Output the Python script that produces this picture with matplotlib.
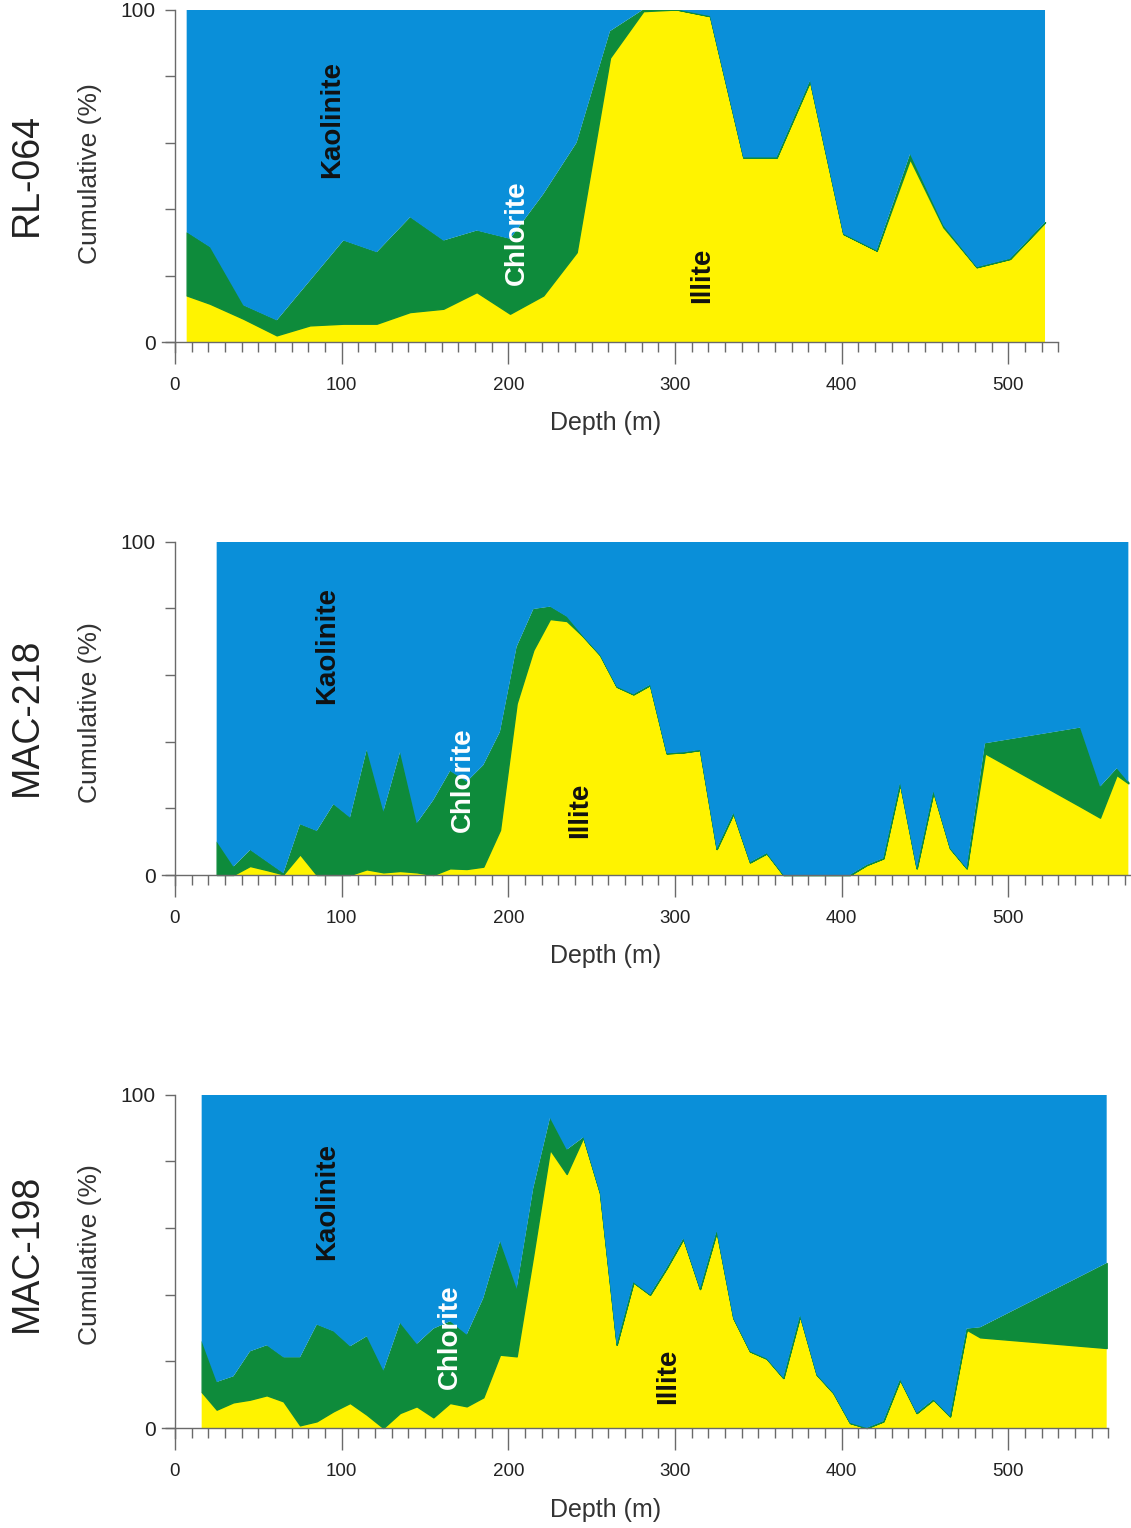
import numpy as np
import matplotlib.pyplot as plt
from matplotlib.ticker import MultipleLocator, FixedLocator, FuncFormatter

plt.rcParams['font.family'] = ['Liberation Sans', 'DejaVu Sans']

# RL-064
rl_depth = [7, 21, 41, 61, 81, 101, 121, 141, 161, 181, 201, 221, 241, 261,
            281, 301, 321, 341, 361, 381, 401, 421, 441, 461, 481, 501, 522]
rl_illite = [14, 11.5, 7, 2, 5, 5.5, 5.5, 9, 10, 15, 8.5, 14, 27, 85.5,
             99.5, 100, 98, 55.5, 55.5, 78.5, 32.5, 27.5, 55, 34.5, 22.5, 25, 36]
rl_chlorite = [19, 17, 4, 4.5, 13.5, 25, 21.5, 28.5, 20.5, 18.5, 22.5, 30.5, 33, 8,
               0.5, 0, 0, 0, 0, 0, 0, 0, 1.5, 0.5, 0, 0, 0]

# MAC-218
m218_depth = [25, 35, 45, 55, 65, 75, 85, 95, 105, 115, 125, 135, 145, 155, 165,
              175, 185, 195, 205, 215, 225, 235, 245, 255, 265, 275, 285, 295, 305,
              315, 325, 335, 345, 355, 365, 375, 385, 395, 405, 415, 425, 435, 445,
              455, 465, 475, 486, 543, 555, 565, 572]
m218_illite = [0, 0, 2.7, 1.5, 0.2, 6.2, 0, 0, 0, 1.7, 0.8, 1.2, 0.8, 0, 2,
               1.8, 2.5, 13.5, 51.5, 67.5, 76.8, 76.2, 71.5, 66, 56.5, 54.2, 57, 36.5, 36.8,
               37.5, 7.8, 18.5, 3.8, 6.5, 0, 0, 0, 0, 0, 3, 5, 27.5, 2,
               25, 8, 2, 36.5, 20.6, 17.2, 30, 27.5]
m218_chlorite = [10, 2.5, 4.8, 2.5, 0.3, 9, 13.2, 21.2, 17.2, 35.8, 18.2, 35.6, 14.7, 22.5, 29.2,
                 26.2, 30.5, 29.5, 17, 12.3, 3.7, 1.3, 0, 0, 0, 0, 0, 0, 0,
                 0, 0, 0, 0, 0, 0, 0, 0, 0, 0, 0, 0, 0, 0,
                 0, 0, 0, 3, 23.6, 9.3, 2, 0.3]

# MAC-198
m198_depth = [16, 25, 35, 45, 55, 65, 75, 85, 95, 105, 115, 125, 135, 145, 155, 165,
              175, 185, 195, 205, 215, 225, 235, 245, 255, 265, 275, 285, 295, 305,
              315, 325, 335, 345, 355, 365, 375, 385, 395, 405, 415, 425, 435, 445,
              455, 465, 475, 483, 559]
m198_illite = [10.8, 5.5, 7.7, 8.5, 9.8, 8, 0.8, 2, 5, 7.5, 4, 0, 4.5, 6.5, 3.2, 7.5,
               6.5, 9.2, 22, 21.5, 52, 83.5, 76.2, 87.2, 70.5, 25, 43.7, 40, 48, 56.8,
               41.7, 59, 33, 23, 20.8, 15, 33.7, 16, 10.5, 1.5, 0, 2, 14.5, 4.5,
               8.5, 3.5, 29.5, 27.2, 24]
m198_chlorite = [15.2, 8.3, 7.8, 14.5, 15, 13.2, 20.4, 29, 24, 17, 23.5, 17.2, 27, 18.7, 26.6, 24.5,
                 21.5, 29.8, 34, 20.3, 20, 9.5, 7.3, 0, 0, 0, 0, 0, 0, 0,
                 0, 0, 0, 0, 0, 0, 0, 0, 0, 0, 0, 0, 0, 0,
                 0, 0, 0.3, 3, 25.5]

W, H = 1131, 1528
PXM = 166.67 / 100  # pixels per metre
X0 = 175            # pixel of depth 0
XMIN, YMIN = -8, -3

c_illite = '#fff300'
c_chlorite = '#0e8b3b'
c_kaol = '#0a8fd9'
axis_col = '#6a6a6a'

fig = plt.figure(figsize=(W / 100, H / 100), dpi=100)


def panel(depth, illite, chlorite, y100, y0, xmax, name, name_y, cum_y, depth_y,
          kao_pos, chl_pos, ill_pos):
    left = X0 + XMIN * PXM
    right = X0 + xmax * PXM
    bottom = y0 + (-YMIN) * (y0 - y100) / 100
    ax = fig.add_axes([left / W, 1 - bottom / H, (right - left) / W, (bottom - y100) / H])

    depth = np.array(depth)
    illite = np.array(illite, dtype=float)
    chlorite = np.array(chlorite, dtype=float)
    kaolinite = 100 - illite - chlorite
    polys = ax.stackplot(depth, illite, chlorite, kaolinite,
                         colors=[c_illite, c_chlorite, c_kaol], linewidth=0)
    # thin green seam along the boundaries, as in the original
    polys[1].set_edgecolor(c_chlorite)
    polys[1].set_linewidth(1.0)

    ax.set_xlim(XMIN, xmax)
    ax.set_ylim(YMIN, 100)
    for s in ['top', 'right']:
        ax.spines[s].set_visible(False)
    ax.spines['left'].set_position(('data', 0))
    ax.spines['bottom'].set_position(('data', 0))
    for s in ['left', 'bottom']:
        ax.spines[s].set_color(axis_col)
        ax.spines[s].set_linewidth(1.0)
        ax.spines[s].set_zorder(3)

    ax.xaxis.set_major_locator(MultipleLocator(100))
    ax.xaxis.set_minor_locator(MultipleLocator(10))
    ax.tick_params(axis='x', which='major', direction='out', length=16, width=1,
                   color=axis_col, labelsize=13.5, pad=9, labelcolor='#222222')
    ax.tick_params(axis='x', which='minor', direction='out', length=7, width=1,
                   color=axis_col)
    ax.yaxis.set_major_locator(FixedLocator([0, 20, 40, 60, 80, 100]))
    ax.yaxis.set_major_formatter(FuncFormatter(lambda v, p: '%d' % v if v in (0, 100) else ''))
    ax.tick_params(axis='y', direction='out', length=7, width=1, color=axis_col,
                   labelsize=15, pad=7, labelcolor='#222222')
    ax.patch.set_alpha(0)

    ax.text(*kao_pos, 'Kaolinite', rotation=90, ha='center', va='center',
            fontsize=20, fontweight='bold', color='#111111')
    ax.text(*chl_pos, 'Chlorite', rotation=90, ha='center', va='center',
            fontsize=20, fontweight='bold', color='white')
    ax.text(*ill_pos, 'Illite', rotation=90, ha='center', va='center',
            fontsize=20, fontweight='bold', color='#111111')

    fig.text(27 / W, 1 - name_y / H, name, rotation=90, ha='center', va='center',
             fontsize=27, color='#222222')
    fig.text(90 / W, 1 - cum_y / H, 'Cumulative (%)', rotation=90, ha='center',
             va='center', fontsize=19, color='#333333')
    fig.text(606 / W, 1 - depth_y / H, 'Depth (m)', ha='center', va='center',
             fontsize=18, color='#333333')
    return ax


panel(rl_depth, rl_illite, rl_chlorite, 9.5, 342, 530, 'RL-064', 175, 174, 423,
      (94, 67), (205, 33), (316, 20))
panel(m218_depth, m218_illite, m218_chlorite, 541.7, 875, 573, 'MAC-218', 717, 713, 956,
      (91, 69), (173, 28.5), (243, 19.5))
panel(m198_depth, m198_illite, m198_chlorite, 1094.7, 1428, 560, 'MAC-198', 1253, 1255, 1510,
      (91, 68), (165, 27.5), (296, 15.5))

fig.savefig('out.png', dpi=100)
